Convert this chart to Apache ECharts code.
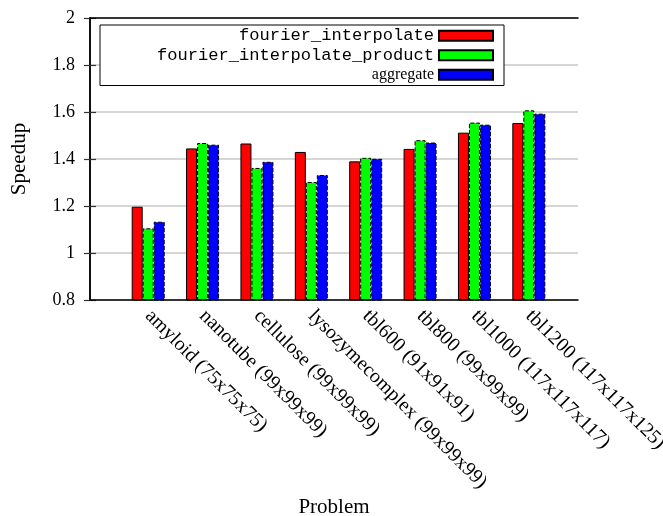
<!DOCTYPE html>
<html>
<head>
<meta charset="utf-8">
<script src="https://cdn.jsdelivr.net/npm/echarts@6/dist/echarts.min.js"></script>
<style>html,body{margin:0;padding:0;background:#fff}#c{width:663px;height:516px}</style>
</head>
<body>
<div id="c"></div>
<script>
const problems = ['amyloid (75x75x75)','nanotube (99x99x99)','cellulose (99x99x99)','lysozymecomplex (99x99x99)',
  'tbl600 (91x91x91)','tbl800 (99x99x99)','tbl1000 (117x117x117)','tbl1200 (117x117x125)'];
const fourierInterp = [1.197, 1.445, 1.466, 1.430, 1.390, 1.443, 1.512, 1.553];
const fourierInterpProduct = [1.105, 1.468, 1.362, 1.302, 1.405, 1.480, 1.555, 1.607];
const aggregate = [1.133, 1.461, 1.388, 1.332, 1.401, 1.470, 1.546, 1.593];

const serif = '"Liberation Serif", "DejaVu Serif", serif';
const mono = '"Liberation Mono", "DejaVu Sans Mono", monospace';

const c = echarts.init(document.getElementById('c'));
const frame = { show: true, lineStyle: { color: '#000', width: 1.5 } };
const tickIn = { show: true, inside: true, length: 6, lineStyle: { color: '#333', width: 1.2 } };

function bars(name, data, color, dashed){
  return {
    name, type: 'bar', xAxisIndex: 2, yAxisIndex: 2, data,
    barWidth: 11, barGap: '0%', z: 2,
    itemStyle: { color, borderColor: '#000', borderWidth: 1, borderType: dashed ? 'dashed' : 'solid' }
  };
}

c.setOption({
  animation: false,
  grid: [
    { left: 90, right: 85, top: 18, bottom: 216, outerBoundsMode: 'none', containLabel: false },
    { left: 121, width: 435, top: 18, bottom: 216, outerBoundsMode: 'none', containLabel: false }
  ],
  xAxis: [
    { gridIndex: 0, type: 'value', min: 0, max: 1, position: 'bottom', axisLine: frame, axisTick: { show: false }, axisLabel: { show: false }, splitLine: { show: false }, z: 5,
      name: 'Problem', nameLocation: 'middle', nameGap: 197,
      nameTextStyle: { color: '#000', fontFamily: serif, fontSize: 21 } },
    { gridIndex: 0, type: 'value', min: 0, max: 1, position: 'top', axisLine: frame, axisTick: { show: false }, axisLabel: { show: false }, splitLine: { show: false }, z: 5 },
    { gridIndex: 1, type: 'category', data: problems, axisLine: { show: false }, axisTick: { show: false },
      axisLabel: { rotate: -45, margin: 13, interval: 0, color: '#000', fontFamily: serif, fontSize: 20 } }
  ],
  yAxis: [
    { gridIndex: 0, type: 'value', min: 0.8, max: 2, interval: 0.2, position: 'left',
      axisLine: frame, axisTick: tickIn,
      axisLabel: { color: '#000', fontFamily: serif, fontSize: 18, margin: 15, formatter: v => String(+v.toFixed(1)) },
      splitLine: { show: true, lineStyle: { color: '#c8c8c8', width: 1.5 } },
      name: 'Speedup', nameLocation: 'middle', nameGap: 60, nameRotate: 90,
      nameTextStyle: { color: '#000', fontFamily: serif, fontSize: 21 } },
    { gridIndex: 0, type: 'value', min: 0.8, max: 2, interval: 0.2, position: 'right',
      axisLine: frame, axisTick: tickIn, axisLabel: { show: false }, splitLine: { show: false } },
    { gridIndex: 1, type: 'value', min: 0.8, max: 2, show: false }
  ],
  legend: {
    orient: 'vertical', left: 100, top: 25, align: 'right', icon: 'rect',
    backgroundColor: '#fff', borderColor: '#000', borderWidth: 1,
    padding: [1, 10, 1, 4], itemGap: 0, itemWidth: 54, itemHeight: 10,
    textStyle: { color: '#000', fontSize: 17.1, fontFamily: mono, width: 330, align: 'right', lineHeight: 19.5 },
    data: [
      { name: 'fourier_interpolate' },
      { name: 'fourier_interpolate_product' },
      { name: 'aggregate', textStyle: { fontFamily: serif, fontSize: 16 } }
    ]
  },
  series: [
    bars('fourier_interpolate', fourierInterp, '#ff0000', false),
    bars('fourier_interpolate_product', fourierInterpProduct, '#00ff00', true),
    bars('aggregate', aggregate, '#0000ff', true)
  ]
});
</script>
</body>
</html>
